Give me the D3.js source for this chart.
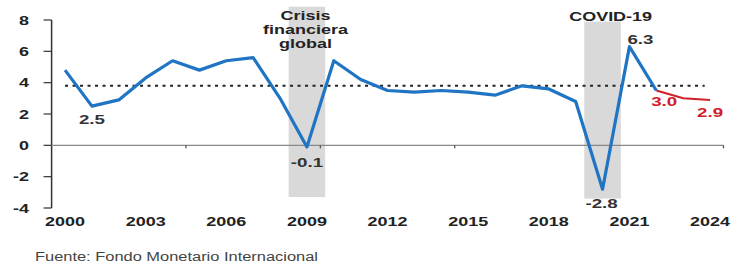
<!DOCTYPE html>
<html lang="es">
<head>
<meta charset="utf-8">
<title>Crecimiento mundial</title>
<script src="https://cdn.jsdelivr.net/npm/d3@7"></script>
<style>
body{margin:0;background:#fff;}
text{font-family:"Liberation Sans",Arial,sans-serif;}
</style>
</head>
<body>
<div id="chart"></div>
<script>
var width = 734,
    height = 264;

// datos
var years = d3.range(2000, 2025);
var growth = [4.8, 2.5, 2.9, 4.3, 5.4, 4.8, 5.4, 5.6, 3.0, -0.1, 5.4, 4.2, 3.5, 3.4, 3.5, 3.4, 3.2, 3.8, 3.6, 2.8, -2.8, 6.3, 3.5];
var forecastYears = [2022, 2023, 2024];
var forecast = [3.5, 3.0, 2.9];
var average = 3.8;
var yTicks = [-4, -2, 0, 2, 4, 6, 8];
var xLabels = [2000, 2003, 2006, 2009, 2012, 2015, 2018, 2021, 2024];
var xBoundaryTicks = [2005, 2010, 2015, 2020, 2025];
var bands = [
  {year: 2009, top: 8.85, bottom: -3.3, cx: 2008.95, lines: ["Crisis", "financiera", "global"]},
  {year: 2020, top: 7.9, bottom: -3.4, cx: 2020.3, lines: ["COVID-19"]}
];
var labels = [
  {year: 2001, v: 2.5, txt: "2.5", dx: 0, dy: 18, color: "#333"},
  {year: 2009, v: -0.1, txt: "-0.1", dx: 0, dy: 20, color: "#333"},
  {year: 2020, v: -2.8, txt: "-2.8", dx: -1, dy: 19, color: "#333"},
  {year: 2021, v: 6.3, txt: "6.3", dx: 11, dy: -3, color: "#333"},
  {year: 2023, v: 3.0, txt: "3.0", dx: -19, dy: 8, color: "#d0202a"},
  {year: 2024, v: 2.9, txt: "2.9", dx: 0, dy: 17, color: "#d0202a"}
];

// el texto del original esta estirado en horizontal
var stretch = 1.5;

var svg = d3.select("#chart").append("svg")
    .attr("width", width)
    .attr("height", height);

var x = d3.scaleLinear().domain([1999.5, 2024.5]).range([51.6, 723.5]);
var y = d3.scaleLinear().domain([-4, 8]).range([208, 20]);

function place(px, py, s){
  return "translate(" + px + "," + py + ") scale(" + (s || stretch) + ",1)";
}

// bandas sombreadas
svg.selectAll("rect.band").data(bands).enter().append("rect")
    .attr("class", "band")
    .attr("x", function(d){ return x(d.year - 0.68); })
    .attr("width", function(d){ return x(d.year + 0.68) - x(d.year - 0.68); })
    .attr("y", function(d){ return y(d.top); })
    .attr("height", function(d){ return y(d.bottom) - y(d.top); })
    .attr("fill", "#d9d9d9");

// eje y
svg.append("line")
    .attr("x1", x(1999.5)).attr("x2", x(1999.5))
    .attr("y1", y(8)).attr("y2", y(-4))
    .attr("stroke", "#333").attr("stroke-width", 1.5);
svg.selectAll("line.ytick").data(yTicks).enter().append("line")
    .attr("x1", x(1999.5) - 8).attr("x2", x(1999.5))
    .attr("y1", function(d){ return y(d); }).attr("y2", function(d){ return y(d); })
    .attr("stroke", "#333").attr("stroke-width", 1.2);
svg.selectAll("text.ylab").data(yTicks).enter().append("text")
    .attr("transform", function(d){ return place(29, y(d) + 4.5); })
    .attr("text-anchor", "end")
    .attr("font-size", 12).attr("font-weight", "bold").attr("fill", "#222")
    .text(function(d){ return d; });

// eje x en cero
svg.append("line")
    .attr("x1", x(1999.5)).attr("x2", x(2024.5))
    .attr("y1", y(0)).attr("y2", y(0))
    .attr("stroke", "#888").attr("stroke-width", 1.3);
svg.selectAll("line.xtick").data(xBoundaryTicks).enter().append("line")
    .attr("x1", function(d){ return x(d - 0.5); }).attr("x2", function(d){ return x(d - 0.5); })
    .attr("y1", y(0)).attr("y2", y(0) + 3)
    .attr("stroke", "#555").attr("stroke-width", 1.3);
svg.selectAll("text.xlab").data(xLabels).enter().append("text")
    .attr("transform", function(d){ return place(x(d), 226); })
    .attr("text-anchor", "middle")
    .attr("font-size", 12).attr("font-weight", "bold").attr("fill", "#222")
    .text(function(d){ return d; });

// promedio
svg.append("line")
    .attr("x1", x(2000)).attr("x2", x(2023.8))
    .attr("y1", y(average)).attr("y2", y(average))
    .attr("stroke", "#222").attr("stroke-width", 2)
    .attr("stroke-dasharray", "3,4.5");

var line = d3.line()
    .x(function(d){ return x(d[0]); })
    .y(function(d){ return y(d[1]); });

svg.append("path")
    .datum(forecastYears.map(function(yr, i){ return [yr, forecast[i]]; }))
    .attr("d", line)
    .attr("fill", "none").attr("stroke", "#d0202a").attr("stroke-width", 2);

svg.append("path")
    .datum(growth.map(function(v, i){ return [years[i], v]; }))
    .attr("d", line)
    .attr("fill", "none").attr("stroke", "#1f74c4").attr("stroke-width", 3.2)
    .attr("stroke-linejoin", "round");

// etiquetas de valores
svg.selectAll("text.vlab").data(labels).enter().append("text")
    .attr("transform", function(d){ return place(x(d.year) + d.dx, y(d.v) + d.dy); })
    .attr("text-anchor", "middle")
    .attr("font-size", 12.5).attr("font-weight", "bold")
    .attr("fill", function(d){ return d.color; })
    .text(function(d){ return d.txt; });

// textos de las bandas
bands.forEach(function(b){
  svg.selectAll(null).data(b.lines).enter().append("text")
      .attr("transform", function(d, i){ return place(x(b.cx), (b.lines.length > 1 ? 19.5 : 21) + i * 14); })
      .attr("text-anchor", "middle")
      .attr("font-size", 12).attr("font-weight", "bold").attr("fill", "#222")
      .text(function(d){ return d; });
});

svg.append("text")
    .attr("transform", place(35, 261, 1.37))
    .attr("font-size", 12).attr("fill", "#444")
    .text("Fuente: Fondo Monetario Internacional");
</script>
</body>
</html>
